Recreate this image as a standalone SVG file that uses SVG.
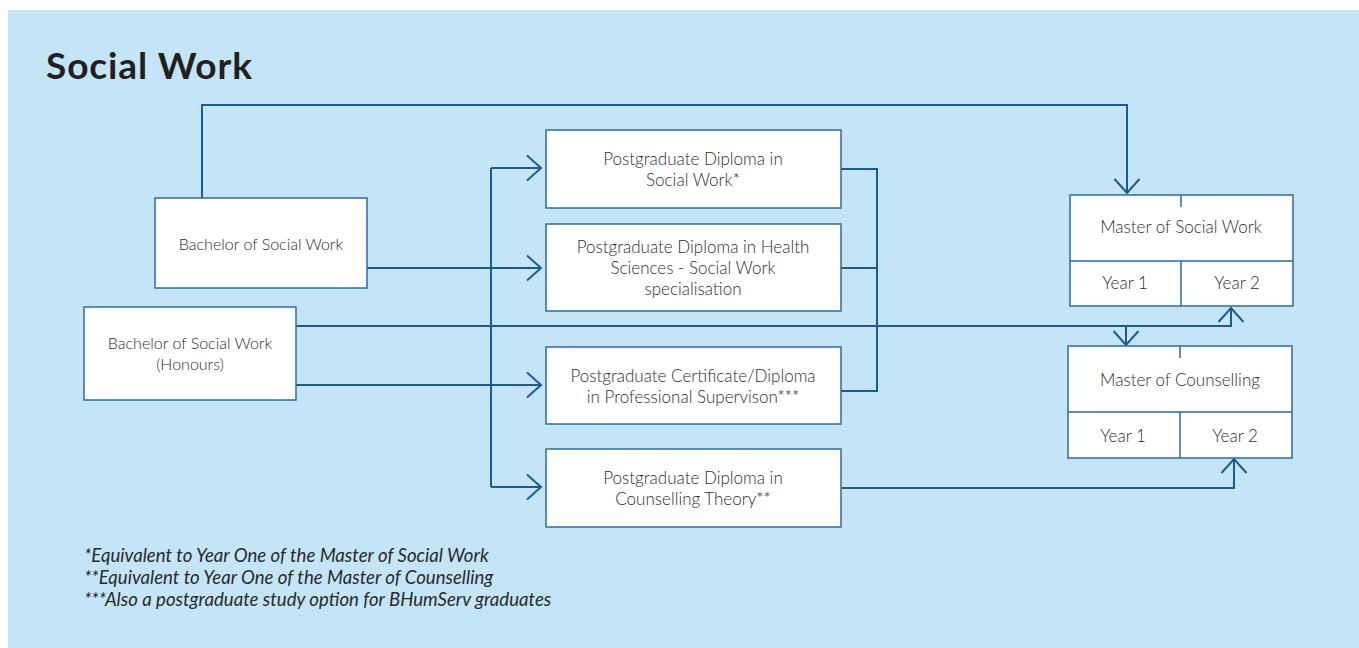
<svg xmlns="http://www.w3.org/2000/svg" width="1359" height="648" viewBox="0 0 1359 648">
<style>
.bg{fill:#C4E5F8}
.box{fill:#fff;stroke:#2D6A9F;stroke-width:1.5}
.div{fill:none;stroke:#2D6A9F;stroke-width:1.5}
.t{font-family:Lato,"Liberation Sans",sans-serif;font-weight:300;font-size:17px;fill:#2e2e2e;text-anchor:middle}
.s{font-size:16px}
.c{fill:none;stroke:#1B5A92;stroke-width:2}
.fn{font-family:Lato,"Liberation Sans",sans-serif;font-style:italic;font-size:18.6px;fill:#2a2a2a}
.title{font-family:Lato,"Liberation Sans",sans-serif;font-weight:bold;font-size:37px;letter-spacing:0.9px;fill:#231f20}
</style>
<defs>
<marker id="ah" markerUnits="userSpaceOnUse" markerWidth="30" markerHeight="30" viewBox="-16 -15 18 30" refX="0" refY="0" orient="auto">
<path d="M-14,-12.5 L0,0 L-14,12.5" fill="none" stroke="#1B5A92" stroke-width="2"/>
</marker>
</defs>
<rect x="0" y="0" width="1359" height="648" fill="#fff"/>
<rect class="bg" x="8" y="10" width="1351" height="638"/>
<text class="title" x="46" y="79">Social Work</text>

<g id="connectors">
<path class="c" d="M202,198 V105 H1127 V193" marker-end="url(#ah)"/>
<path class="c" d="M367,268 H541" marker-end="url(#ah)"/>
<path class="c" d="M491,168 V487"/>
<path class="c" d="M491,168 H541" marker-end="url(#ah)"/>
<path class="c" d="M491,487 H541" marker-end="url(#ah)"/>
<path class="c" d="M296,385 H541" marker-end="url(#ah)"/>
<path class="c" d="M841,169 H877 V391 H841"/>
<path class="c" d="M841,268 H877"/>
<path class="c" d="M296,326 H1231 V308" marker-end="url(#ah)"/>
<path class="c" d="M1126,326 V345" marker-end="url(#ah)"/>
<path class="c" d="M841,488 H1234 V459" marker-end="url(#ah)"/>
</g>

<g id="bsw">
<rect class="box" x="155" y="198" width="212" height="90"/>
<text class="t s" x="261" y="250">Bachelor of Social Work</text>
</g>
<g id="bswh">
<rect class="box" x="84" y="307" width="212" height="93"/>
<text class="t s" x="190" y="349">Bachelor of Social Work</text>
<text class="t s" x="190" y="370">(Honours)</text>
</g>
<g id="pgdsw">
<rect class="box" x="546" y="130" width="295" height="78"/>
<text class="t" x="693" y="165">Postgraduate Diploma in</text>
<text class="t" x="693" y="186">Social Work*</text>
</g>
<g id="pgdhs">
<rect class="box" x="546" y="224" width="295" height="87"/>
<text class="t" x="693" y="253">Postgraduate Diploma in Health</text>
<text class="t" x="693" y="274">Sciences - Social Work</text>
<text class="t" x="693" y="295">specialisation</text>
</g>
<g id="pgcert">
<rect class="box" x="546" y="347" width="295" height="77"/>
<text class="t" x="693" y="382">Postgraduate Certificate/Diploma</text>
<text class="t" x="693" y="403">in Professional Supervison***</text>
</g>
<g id="pgdct">
<rect class="box" x="546" y="449" width="295" height="78"/>
<text class="t" x="693" y="484">Postgraduate Diploma in</text>
<text class="t" x="693" y="505">Counselling Theory**</text>
</g>
<g id="msw">
<rect class="box" x="1070" y="195" width="223" height="111"/>
<path class="div" d="M1070,261 H1293 M1181,261 V306 M1181,195 V207"/>
<text class="t" x="1181" y="233">Master of Social Work</text>
<text class="t" x="1125" y="289">Year 1</text>
<text class="t" x="1237" y="289">Year 2</text>
</g>
<g id="mc">
<rect class="box" x="1068" y="346" width="224" height="112"/>
<path class="div" d="M1068,412 H1292 M1180,412 V458 M1180,346 V358"/>
<text class="t" x="1180" y="386">Master of Counselling</text>
<text class="t" x="1123" y="442">Year 1</text>
<text class="t" x="1235" y="442">Year 2</text>
</g>

<g id="footnotes">
<text class="fn" x="84" y="562">*Equivalent to Year One of the Master of Social Work</text>
<text class="fn" x="84" y="584">**Equivalent to Year One of the Master of Counselling</text>
<text class="fn" x="84" y="606">***Also a postgraduate study option for BHumServ graduates</text>
</g>
</svg>
